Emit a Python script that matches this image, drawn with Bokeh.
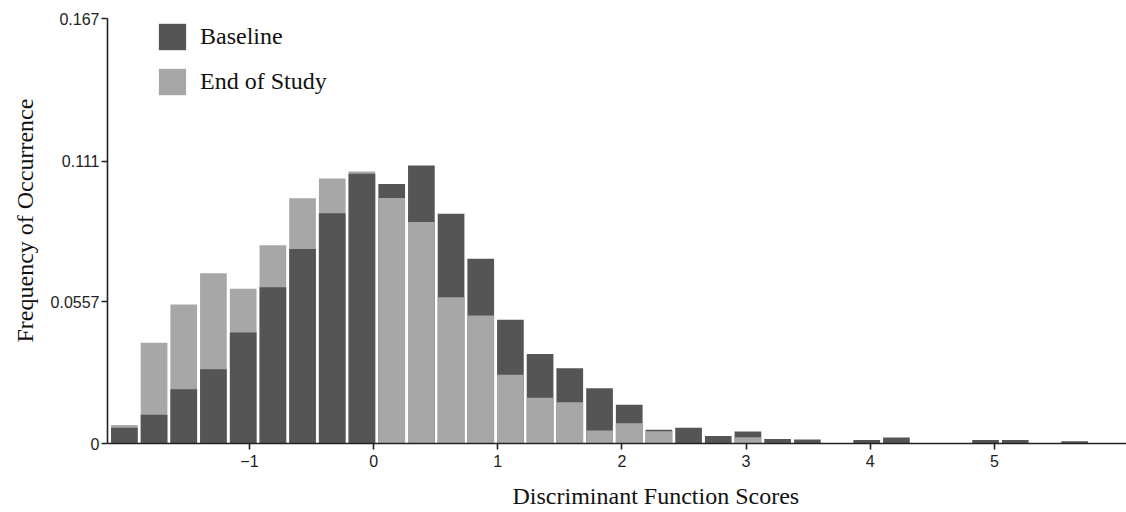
from bokeh.plotting import figure
from bokeh.models import (ColumnDataSource, FixedTicker, Legend, LegendItem, Title)
from bokeh.embed import file_html
from bokeh.resources import INLINE

# ---- data ----
bin_centers = [-2.007, -1.768, -1.529, -1.290, -1.050, -0.811, -0.572, -0.333,
               -0.094, 0.146, 0.385, 0.624, 0.863, 1.102, 1.341, 1.580,
               1.820, 2.059, 2.298, 2.537, 2.776, 3.015, 3.254, 3.494,
               3.733, 3.972, 4.211, 4.450, 4.689, 4.929, 5.168, 5.407, 5.646]
baseline = [0.0062, 0.0113, 0.0213, 0.0292, 0.0436, 0.0614, 0.0764, 0.0905,
            0.1060, 0.1020, 0.1092, 0.0903, 0.0726, 0.0486, 0.0352, 0.0296,
            0.0217, 0.0152, 0.0054, 0.0062, 0.0029, 0.0047, 0.0018, 0.0016,
            0.0, 0.0014, 0.0024, 0.0, 0.0, 0.0014, 0.0014, 0.0, 0.0009]
end_of_study = [0.0073, 0.0396, 0.0546, 0.0669, 0.0608, 0.0779, 0.0964, 0.1041,
                0.1069, 0.0965, 0.0870, 0.0575, 0.0503, 0.0270, 0.0180, 0.0162,
                0.0051, 0.0080, 0.0048, 0.0, 0.0, 0.0025, 0.0, 0.0,
                0.0, 0.0, 0.0, 0.0, 0.0, 0.0, 0.0, 0.0, 0.0]
series_names = ["Baseline", "End of Study"]
x_ticks = [-1, 0, 1, 2, 3, 4, 5]
x_tick_labels = ["\u22121", "0", "1", "2", "3", "4", "5"]
y_ticks = [0, 0.0557, 0.111, 0.167]
y_tick_labels = ["0", "0.0557", "0.111", "0.167"]
x_title = "Discriminant Function Scores"
y_title = "Frequency of Occurrence"

# ---- style ----
DARK = "#555555"
LIGHT = "#a7a7a7"
AXIS = "#222222"
BAR_W = 0.215

back_top, back_col, front_top, front_col = [], [], [], []
for b, e in zip(baseline, end_of_study):
    if b >= e:
        back_top.append(b); back_col.append(DARK)
        front_top.append(e); front_col.append(LIGHT)
    else:
        back_top.append(e); back_col.append(LIGHT)
        front_top.append(b); front_col.append(DARK)

back_src = ColumnDataSource(dict(x=bin_centers, top=back_top, color=back_col))
front_src = ColumnDataSource(dict(x=bin_centers, top=front_top, color=front_col))

p = figure(width=1126, height=512, frame_width=1019, frame_height=425,
           min_border_left=107, min_border_right=0, min_border_top=18, min_border_bottom=69,
           x_range=(-2.143, 6.064), y_range=(0, 0.167),
           output_backend="svg", toolbar_location=None)
p.outline_line_color = None
p.xgrid.visible = False
p.ygrid.visible = False
p.background_fill_color = "white"
p.border_fill_color = "white"

r_back = p.vbar(x="x", top="top", width=BAR_W, bottom=0, source=back_src,
                fill_color="color", line_color=None)
r_front = p.vbar(x="x", top="top", width=BAR_W, bottom=0, source=front_src,
                 fill_color="color", line_color=None)

for ax in (p.xaxis[0], p.yaxis[0]):
    ax.axis_line_color = AXIS
    ax.axis_line_width = 1.6
    ax.major_tick_line_color = AXIS
    ax.major_tick_line_width = 1.6
    ax.major_tick_out = 6
    ax.major_tick_in = 0
    ax.minor_tick_line_color = None
    ax.major_label_text_font = "Liberation Sans"
    ax.major_label_text_font_size = "16px"
    ax.major_label_text_color = AXIS

p.xaxis[0].ticker = FixedTicker(ticks=x_ticks)
p.xaxis[0].major_label_overrides = {t: l for t, l in zip(x_ticks, x_tick_labels)}
p.xaxis[0].major_label_standoff = 5
p.yaxis[0].ticker = FixedTicker(ticks=y_ticks)
p.yaxis[0].major_label_overrides = {t: l for t, l in zip(y_ticks, y_tick_labels)}
p.yaxis[0].major_label_standoff = 2

# legend
i_dark = next(i for i, c in enumerate(back_col) if c == DARK)
i_light = next(i for i, c in enumerate(back_col) if c == LIGHT)
legend = Legend(items=[LegendItem(label=series_names[0], renderers=[r_back], index=i_dark),
                       LegendItem(label=series_names[1], renderers=[r_back], index=i_light)],
                location=(48, 345), glyph_width=34, glyph_height=33, spacing=12,
                padding=0, margin=0, label_standoff=11,
                border_line_alpha=0, background_fill_alpha=0,
                label_text_font="Liberation Serif", label_text_font_size="24px",
                label_text_color="#111111")
p.add_layout(legend)

# axis titles
p.add_layout(Title(text=x_title, align="left", offset=405, standoff=22,
                   text_font="Liberation Serif", text_font_size="24px",
                   text_font_style="normal", text_color="#111111"), "below")
p.add_layout(Title(text=y_title, align="left", offset=101, standoff=19,
                   text_font="Liberation Serif", text_font_size="24px",
                   text_font_style="normal", text_color="#111111"), "left")

open("out.html", "w").write(file_html(p, INLINE))
